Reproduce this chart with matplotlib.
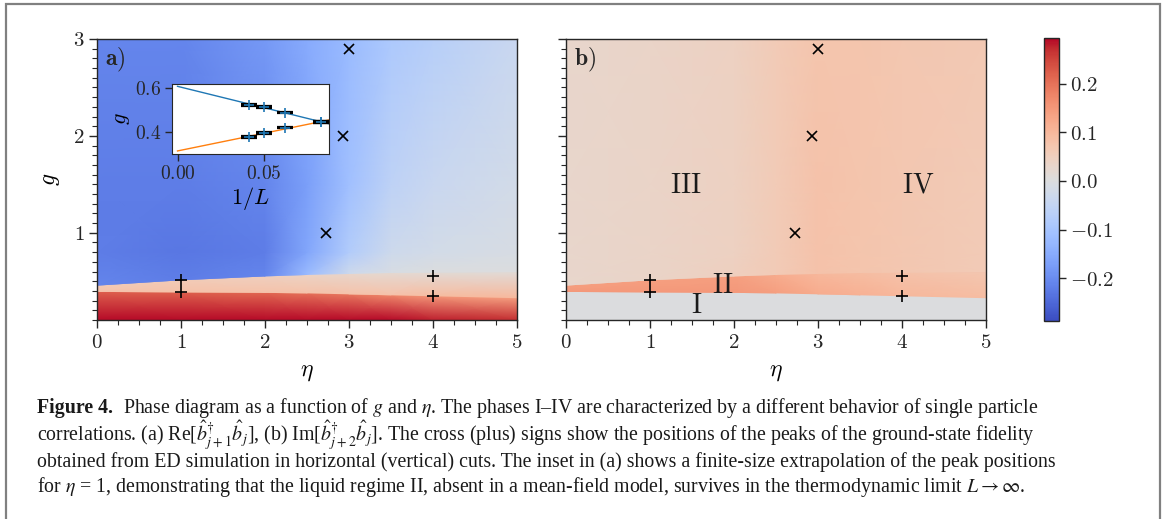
import numpy as np
import matplotlib
matplotlib.use('Agg')
import matplotlib.pyplot as plt
from matplotlib.colors import Normalize
from matplotlib.cm import ScalarMappable
from matplotlib.patches import Rectangle

plt.rcParams['mathtext.fontset'] = 'cm'
plt.rcParams['font.family'] = 'DejaVu Serif'

# --- data ---
# eta columns of the colour maps
eta_nodes = [0.0, 1.0, 2.0, 2.5, 3.0, 3.5, 4.0, 5.0]
# phase boundaries g(eta): top of phase I, top of phase II
g_I_top = [0.395, 0.39, 0.385, 0.38, 0.37, 0.36, 0.35, 0.33]
g_II_top = [0.46, 0.515, 0.555, 0.57, 0.58, 0.59, 0.595, 0.60]
g_bottom = 0.1
g_upper_rows = [0.8, 1.5, 3.0]

# panel a) Re[b+_{j+1} b_j], rows: bottom, I top, II bottom, II top, III bottom, g=0.8, 1.5, 3.0
re_rows = [
    [0.29, 0.29, 0.29, 0.29, 0.29, 0.29, 0.28, 0.27],
    [0.22, 0.22, 0.21, 0.20, 0.19, 0.17, 0.15, 0.14],
    [0.08, 0.08, 0.08, 0.08, 0.08, 0.08, 0.09, 0.10],
    [0.06, 0.06, 0.05, 0.04, 0.03, 0.02, 0.015, 0.01],
    [-0.21, -0.22, -0.21, -0.12, -0.03, -0.01, 0.0, 0.0],
    [-0.22, -0.23, -0.22, -0.16, -0.08, -0.03, -0.02, -0.01],
    [-0.22, -0.22, -0.21, -0.17, -0.11, -0.06, -0.04, -0.02],
    [-0.21, -0.21, -0.18, -0.15, -0.12, -0.09, -0.07, -0.04],
]
# panel b) Im[b+_{j+2} b_j]
im_rows = [
    [0.0, 0.0, 0.0, 0.0, 0.0, 0.0, 0.0, 0.0],
    [0.0, 0.0, 0.0, 0.0, 0.0, 0.0, 0.0, 0.0],
    [0.15, 0.15, 0.15, 0.14, 0.12, 0.11, 0.10, 0.09],
    [0.14, 0.14, 0.14, 0.12, 0.10, 0.09, 0.08, 0.07],
    [0.03, 0.035, 0.05, 0.06, 0.08, 0.075, 0.07, 0.06],
    [0.03, 0.035, 0.045, 0.06, 0.08, 0.075, 0.07, 0.06],
    [0.03, 0.035, 0.045, 0.06, 0.08, 0.075, 0.07, 0.06],
    [0.03, 0.035, 0.045, 0.06, 0.075, 0.075, 0.07, 0.065],
]

# fidelity peaks: horizontal cuts (x) and vertical cuts (+)
cross_eta = [3.0, 2.93, 2.73]
cross_g = [2.9, 2.0, 1.0]
plus_eta = [1, 1, 4, 4]
plus_g = [0.512, 0.392, 0.557, 0.352]

# inset: finite-size peak positions at eta = 1
inv_L = [1 / 24, 1 / 20, 1 / 16, 1 / 12]
g_peak_up = [0.524, 0.513, 0.489, 0.446]
g_peak_low = [0.380, 0.397, 0.422, 0.446]

region_labels = ['$\\mathrm{III}$', '$\\mathrm{IV}$', '$\\mathrm{II}$', '$\\mathrm{I}$']
region_eta = [1.42, 4.19, 1.86, 1.55]
region_g = [1.49, 1.49, 0.46, 0.25]

caption_lines = [
    'Phase diagram as a function of $g$ and $\\eta$. The phases I\u2013IV are characterized by a different behavior of single particle',
    'correlations. (a) Re[$\\hat{b}^{\\dagger}_{j+1}\\hat{b}_j$], (b) Im[$\\hat{b}^{\\dagger}_{j+2}\\hat{b}_j$]. The cross (plus) signs show the positions of the peaks of the ground-state fidelity',
    'obtained from ED simulation in horizontal (vertical) cuts. The inset in (a) shows a finite-size extrapolation of the peak positions',
    'for $\\eta$ = 1, demonstrating that the liquid regime II, absent in a mean-field model, survives in the thermodynamic limit $L \\rightarrow \\infty$.',
]

W, H = 1163, 519


def fig_rect(x0, y0, x1, y1):
    return [x0 / W, 1 - y1 / H, (x1 - x0) / W, (y1 - y0) / H]


fig = plt.figure(figsize=(W / 100, H / 100), dpi=100)
ax_a = fig.add_axes(fig_rect(97, 39, 517, 320))
ax_b = fig.add_axes(fig_rect(566, 39, 986, 320))
cax = fig.add_axes(fig_rect(1044, 38, 1059, 321))

cmap = plt.get_cmap('coolwarm')
norm = Normalize(vmin=-0.288, vmax=0.294)
tick_col = '#262626'

eta_arr = np.array(eta_nodes)
g_rows = [np.full_like(eta_arr, g_bottom), np.array(g_I_top), np.array(g_I_top),
          np.array(g_II_top), np.array(g_II_top)] + [np.full_like(eta_arr, v) for v in g_upper_rows]
G = np.vstack(g_rows)
X = np.tile(eta_arr, (len(g_rows), 1))


def style_axes(ax, ylabels):
    ax.set_xlim(0, 5)
    ax.set_ylim(0.1, 3)
    ax.set_xticks(range(6), labels=[f'${i}$' for i in range(6)])
    ax.set_xticks(np.arange(0, 5.01, 0.25), minor=True)
    ax.set_yticks([1, 2, 3], labels=[f'${i}$' for i in [1, 2, 3]] if ylabels else [])
    ax.set_yticks(np.arange(0.1, 3.01, 0.1), minor=True)
    ax.tick_params(which='major', length=6, width=1, color=tick_col, labelsize=15, labelcolor=tick_col, pad=3)
    ax.tick_params(which='minor', length=3.5, width=0.8, color=tick_col)
    for s in ax.spines.values():
        s.set_color(tick_col)
        s.set_linewidth(1)
    ax.set_xlabel('$\\eta$', fontsize=17, labelpad=6)


for ax, vals in [(ax_a, re_rows), (ax_b, im_rows)]:
    ax.pcolormesh(X, G, np.array(vals), shading='gouraud', cmap=cmap, norm=norm, rasterized=True)
    ax.plot(cross_eta, cross_g, 'x', color='k', ms=7, mew=1.2)
    ax.plot(plus_eta, plus_g, '+', color='k', ms=8, mew=1.2)

style_axes(ax_a, True)
style_axes(ax_b, False)
ax_a.set_ylabel('$g$', fontsize=17, labelpad=8)

ax_a.text(0.02, 0.925, '$\\mathbf{a}\\mathrm{)}$', transform=ax_a.transAxes, fontsize=17, va='center', color=tick_col)
ax_b.text(0.02, 0.925, '$\\mathbf{b}\\mathrm{)}$', transform=ax_b.transAxes, fontsize=17, va='center', color=tick_col)
for lab, xe, yg in zip(region_labels, region_eta, region_g):
    ax_b.text(xe, yg, lab, fontsize=20, ha='center', va='center', color='#1a1a1a')

# inset
ax_in = fig.add_axes(fig_rect(172, 84, 329, 154))
ax_in.set_facecolor('white')
fit_x = np.array([0.0, 0.09])
for ys, col in [(g_peak_up, '#1f77b4'), (g_peak_low, '#ff7f0e')]:
    k, b0 = np.polyfit(inv_L, ys, 1)
    ax_in.plot(fit_x, k * fit_x + b0, color=col, lw=1)
for ys in [g_peak_up, g_peak_low]:
    ax_in.errorbar(inv_L, ys, yerr=0.004, fmt='none', ecolor='k', capsize=6, capthick=1.6, elinewidth=1.6)
    ax_in.plot(inv_L, ys, '+', color='#1f77b4', ms=7, mew=1.2)
ax_in.set_xlim(-0.0032, 0.0877)
ax_in.set_ylim(0.304, 0.6164)
ax_in.set_xticks([0, 0.05], labels=['$0.00$', '$0.05$'])
ax_in.set_yticks([0.4, 0.6], labels=['$0.4$', '$0.6$'])
ax_in.tick_params(length=5, width=1, color=tick_col, labelsize=14, labelcolor=tick_col, pad=3)
for s in ax_in.spines.values():
    s.set_color(tick_col)
ax_in.set_xlabel('$1/L$', fontsize=16, labelpad=1)
ax_in.set_ylabel('$g$', fontsize=16, labelpad=2)

# colorbar
cb = fig.colorbar(ScalarMappable(norm=norm, cmap=cmap), cax=cax)
cb.set_ticks([-0.2, -0.1, 0.0, 0.1, 0.2], labels=['$-0.2$', '$-0.1$', '$0.0$', '$0.1$', '$0.2$'])
cax.tick_params(length=5, width=1, color=tick_col, labelsize=15, labelcolor=tick_col, pad=3)
cb.outline.set_edgecolor(tick_col)
cb.outline.set_linewidth(1)

# caption box and text
fig.patches.append(Rectangle((6 / W, -0.1), (1160 - 6) / W, 1.1 - 4 / H, transform=fig.transFigure,
                             fill=False, edgecolor='#808080', lw=1.6, clip_on=False))
cap_font = dict(family='Liberation Serif', fontsize=14.3, color='#1a1a1a', math_fontfamily='stix')
baselines = [413, 442, 467, 492]
x0 = 37
fig.canvas.draw()
bold = fig.text(x0 / W, 1 - baselines[0] / H, 'Figure 4.', fontweight='bold', va='baseline', **cap_font)
bw = bold.get_window_extent(fig.canvas.get_renderer()).width
for i, (line, yb) in enumerate(zip(caption_lines, baselines)):
    xs = x0 + (bw + 10 if i == 0 else 0)
    fig.text(xs / W, 1 - yb / H, line, va='baseline', **cap_font)

fig.savefig('out.png', dpi=100)
